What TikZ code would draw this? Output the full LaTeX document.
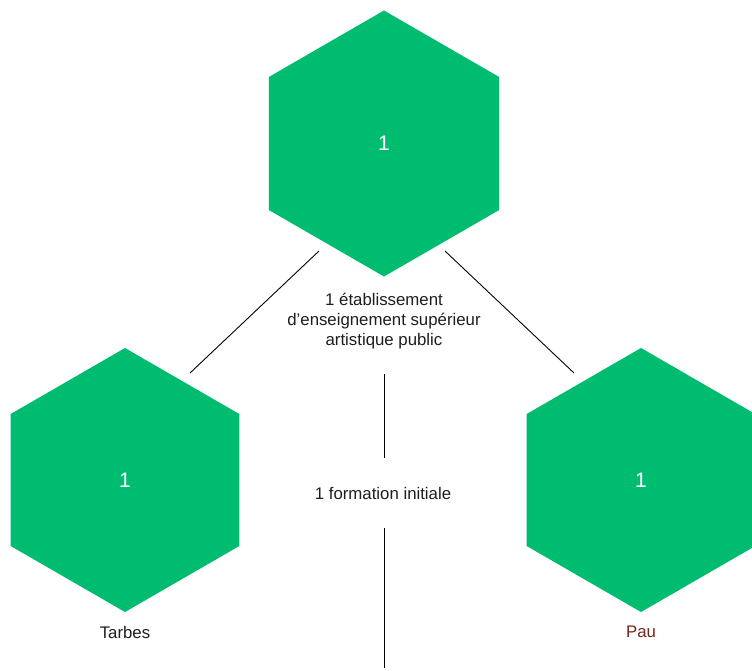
\documentclass[tikz,border=0pt]{standalone}
\usepackage{fontspec}
\setmainfont{Liberation Sans}
\usetikzlibrary{shapes.geometric}
\definecolor{hexgreen}{RGB}{0,188,112}
\definecolor{labeltext}{RGB}{30,30,30}
\definecolor{paured}{RGB}{112,38,32}
\begin{document}
\begin{tikzpicture}[x=1pt,y=-1pt,
  hexa/.style={regular polygon,regular polygon sides=6,regular polygon rotate=30,
    fill=hexgreen,draw=none,minimum size=266pt,inner sep=0pt,outer sep=0pt,
    text=white,font=\fontsize{21}{24}\selectfont},
  lbl/.style={text=labeltext,font=\fontsize{16.8}{20}\selectfont,align=center,inner sep=0pt},
  conn/.style={draw=black,line width=0.9pt}]
\useasboundingbox (0,0) rectangle (752,670);
\clip (0,0) rectangle (752,670);
\fill[white] (0,0) rectangle (752,670);
\node[hexa] (top) at (384,143.5) {1};
\node[hexa,minimum size=264pt] (left) at (125,480) {1};
\node[hexa,minimum size=264pt] (right) at (641,480) {1};
\node[lbl] (etab) at (384,321) {1 établissement\\d’enseignement supérieur\\artistique public};
\node[lbl] (form) at (383,493) {1 formation initiale};
\node[lbl] (tarbes) at (125,632) {Tarbes};
\node[lbl,text=paured] (pau) at (641,632) {Pau};
\coordinate (l1) at (319,251);
\coordinate (l2) at (190,373);
\coordinate (r1) at (445,251);
\coordinate (r2) at (574,373);
\coordinate (v1) at (384,374);
\coordinate (v2) at (384,458);
\coordinate (v3) at (384,528);
\coordinate (v4) at (384,668);
\draw[conn] (l1) -- (l2);
\draw[conn] (r1) -- (r2);
\draw[conn] (v1) -- (v2);
\draw[conn] (v3) -- (v4);
\end{tikzpicture}
\end{document}
